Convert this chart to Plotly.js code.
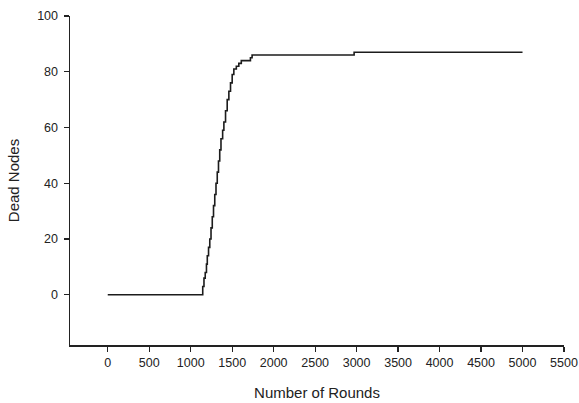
<!DOCTYPE html>
<html>
<head>
<meta charset="utf-8">
<script src="https://cdn.plot.ly/plotly-3.0.1.min.js"></script>
<style>html,body{margin:0;padding:0;background:#fff;}#chart{width:579px;height:403px;}</style>
</head>
<body>
<div id="chart"></div>
<script>
var rounds = [0, 1140, 1145, 1160, 1175, 1190, 1200, 1215, 1230, 1245, 1260, 1275, 1290, 1305, 1320, 1335, 1350, 1365, 1385, 1400, 1420, 1440, 1460, 1480, 1500, 1520, 1550, 1580, 1610, 1720, 1740, 2970, 5000];
var deadNodes = [0, 0, 3, 6, 8, 11, 14, 17, 20, 24, 28, 32, 36, 40, 44, 48, 52, 56, 59, 62, 66, 70, 73, 76, 79, 81, 82, 83, 84, 85, 86, 87, 87];
var xTicks = [0, 500, 1000, 1500, 2000, 2500, 3000, 3500, 4000, 4500, 5000, 5500];
var yTicks = [0, 20, 40, 60, 80, 100];

var trace = {
  x: rounds, y: deadNodes, type: 'scatter', mode: 'lines',
  line: {color: '#1c1c1c', width: 1.6, shape: 'hv'},
  hoverinfo: 'skip'
};
var fam = 'Liberation Sans, Arial, sans-serif';
var tickFont = {family: fam, size: 12.5, color: '#222'};
var titleFont = {family: fam, size: 15, color: '#222'};
var layout = {
  width: 579, height: 403,
  margin: {l: 70, r: 15, t: 16, b: 58},
  paper_bgcolor: '#fff', plot_bgcolor: '#fff',
  showlegend: false,
  font: tickFont,
  xaxis: {
    range: [-455, 5500], tickvals: xTicks, ticktext: xTicks.map(String),
    showgrid: false, zeroline: false, showline: true, linecolor: '#222', linewidth: 1.5,
    ticks: 'outside', ticklen: 5, tickwidth: 1.2, tickcolor: '#222',
    tickfont: tickFont,
    title: {text: 'Number of Rounds', font: titleFont, standoff: 19}
  },
  yaxis: {
    range: [-18, 100], tickvals: yTicks, ticktext: yTicks.map(String),
    showgrid: false, zeroline: false, showline: true, linecolor: '#222', linewidth: 1.5,
    ticks: 'outside', ticklen: 5, tickwidth: 1.2, tickcolor: '#222',
    ticklabelstandoff: 3,
    tickfont: tickFont,
    title: {text: 'Dead Nodes', font: titleFont, standoff: 14}
  }
};
Plotly.newPlot('chart', [trace], layout, {staticPlot: true, displayModeBar: false});
</script>
</body>
</html>
